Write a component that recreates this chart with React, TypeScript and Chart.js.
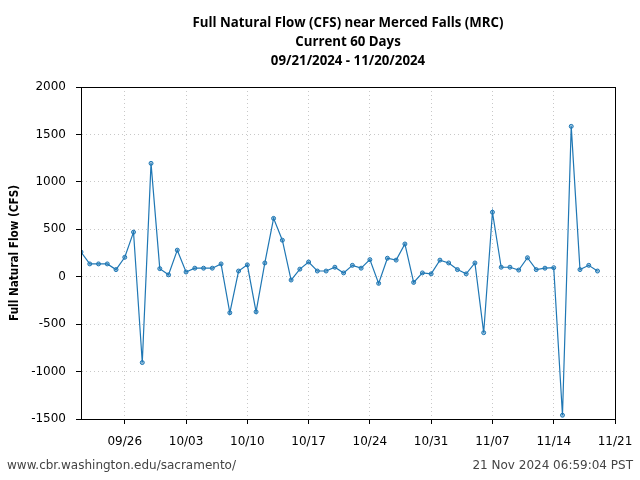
import React, { useEffect, useRef } from "react";
import { Chart, registerables } from "chart.js";

Chart.register(...registerables);

const titleLines = [
  "Full Natural Flow (CFS) near Merced Falls (MRC)",
  "Current 60 Days",
  "09/21/2024 - 11/20/2024",
];
const yAxisTitle = "Full Natural Flow (CFS)";
const footerLeft = "www.cbr.washington.edu/sacramento/";
const footerRight = "21 Nov 2024 06:59:04 PST";

const startDate = "2024-09-21";
const axisEndDate = "2024-11-21";

// Daily full natural flow values, 09/21/2024 .. 11/19/2024
const flowValues = [
  260, 135, 135, 135, 75, 205, 470, -905, 1195, 85,
  20, 280, 50, 90, 90, 90, 135, -380, 60, 125,
  -370, 145, 615, 385, -35, 80, 155, 60, 60, 100,
  40, 120, 90, 180, -70, 195, 175, 345, -60, 40, 30,
  175, 145, 75, 30, 145, -590, 680, 100, 100, 70,
  200, 75, 90, 95, -1460, 1585, 75, 120, 60,
];

const xTickDates = [
  "2024-09-26", "2024-10-03", "2024-10-10", "2024-10-17", "2024-10-24",
  "2024-10-31", "2024-11-07", "2024-11-14", "2024-11-21",
];
const xTickLabels = ["09/26", "10/03", "10/10", "10/17", "10/24", "10/31", "11/07", "11/14", "11/21"];

const yMin = -1500;
const yMax = 2000;
const yStep = 500;

const DAY = 86400000;
const dayIndex = (d: string) => Math.round((Date.parse(d + "T00:00:00Z") - Date.parse(startDate + "T00:00:00Z")) / DAY);

const decorPlugin = {
  id: "decor",
  afterDraw(chart: any) {
    const ctx = chart.ctx as CanvasRenderingContext2D;
    const a = chart.chartArea;
    ctx.save();
    // box
    ctx.strokeStyle = "#000";
    ctx.lineWidth = 1;
    ctx.setLineDash([]);
    ctx.strokeRect(Math.round(a.left) + 0.5, Math.round(a.top) + 0.5, Math.round(a.right - a.left), Math.round(a.bottom - a.top));
    // titles
    const cx = (a.left + a.right) / 2;
    ctx.fillStyle = "#000";
    ctx.textAlign = "center";
    ctx.textBaseline = "middle";
    ctx.font = "bold 14px 'Open Sans'";
    const ratio = 311 / ctx.measureText(titleLines[0]).width;
    titleLines.forEach((t, i) => {
      const y = 23 + i * 19;
      const w = ctx.measureText(t).width;
      ctx.fillText(t, cx, y, w * ratio);
    });
    // y title
    ctx.save();
    ctx.translate(15, (a.top + a.bottom) / 2);
    ctx.rotate(-Math.PI / 2);
    ctx.font = "bold 12px 'DejaVu Sans'";
    ctx.fillText(yAxisTitle, 0, 0, 136);
    ctx.restore();
    // footer
    ctx.font = "12px 'DejaVu Sans'";
    ctx.fillStyle = "#444";
    ctx.textAlign = "left";
    ctx.fillText(footerLeft, 7, 466);
    ctx.textAlign = "right";
    ctx.fillText(footerRight, 633, 466);
    ctx.restore();
  },
};

const noPad = (s: any) => {
  s.paddingLeft = 0;
  s.paddingRight = 0;
  s.paddingTop = 0;
  s.paddingBottom = 0;
};

export default function App() {
  const ref = useRef<HTMLCanvasElement | null>(null);
  useEffect(() => {
    if (!ref.current) return;
    const tickIdx = xTickDates.map(dayIndex);
    const data = flowValues.map((v, i) => ({ x: i, y: v }));
    const chart = new Chart(ref.current, {
      type: "line",
      data: {
        datasets: [
          {
            data,
            borderColor: "#1f77b4",
            borderWidth: 1.2,
            pointRadius: 2,
            pointBorderWidth: 1,
            pointBackgroundColor: "rgba(31,119,180,0.45)",
            pointBorderColor: "#1f77b4",
            tension: 0,
          },
        ],
      },
      options: {
        responsive: false,
        animation: false,
        layout: { padding: { top: 87, right: 25, bottom: 0, left: 0 } },
        plugins: { legend: { display: false }, tooltip: { enabled: false } },
        scales: {
          x: {
            type: "linear",
            min: 0,
            max: dayIndex(axisEndDate),
            afterBuildTicks: (s: any) => {
              s.ticks = tickIdx.map((v) => ({ value: v }));
            },
            afterFit: (s: any) => {
              s.height = 61;
              noPad(s);
            },
            ticks: {
              autoSkip: false,
              maxRotation: 0,
              padding: 11,
              color: "#000",
              font: { family: "'DejaVu Sans'", size: 12 },
              callback: (v: any) => {
                const k = tickIdx.indexOf(Math.round(Number(v)));
                return k >= 0 ? xTickLabels[k] : "";
              },
            },
            grid: { color: "#c8c8c8", lineWidth: 1, tickLength: 5, tickColor: "#000", tickBorderDash: [] },
            border: { display: true, color: "#000", width: 1, dash: [1, 3] },
          },
          y: {
            type: "linear",
            min: yMin,
            max: yMax,
            afterFit: (s: any) => {
              s.width = 81;
              noPad(s);
            },
            ticks: {
              stepSize: yStep,
              padding: 10,
              color: "#000",
              font: { family: "'DejaVu Sans'", size: 12 },
              callback: (v: any) => String(v),
            },
            grid: { color: "#c8c8c8", lineWidth: 1, tickLength: 5, tickColor: "#000", tickBorderDash: [] },
            border: { display: true, color: "#000", width: 1, dash: [1, 3] },
          },
        },
      },
      plugins: [decorPlugin],
    });
    return () => chart.destroy();
  }, []);
  return (
    <div style={{ position: "absolute", left: 0, top: 0, width: 640, height: 480, background: "#fff" }}>
      <canvas ref={ref} width={640} height={480} style={{ width: 640, height: 480 }} />
    </div>
  );
}
